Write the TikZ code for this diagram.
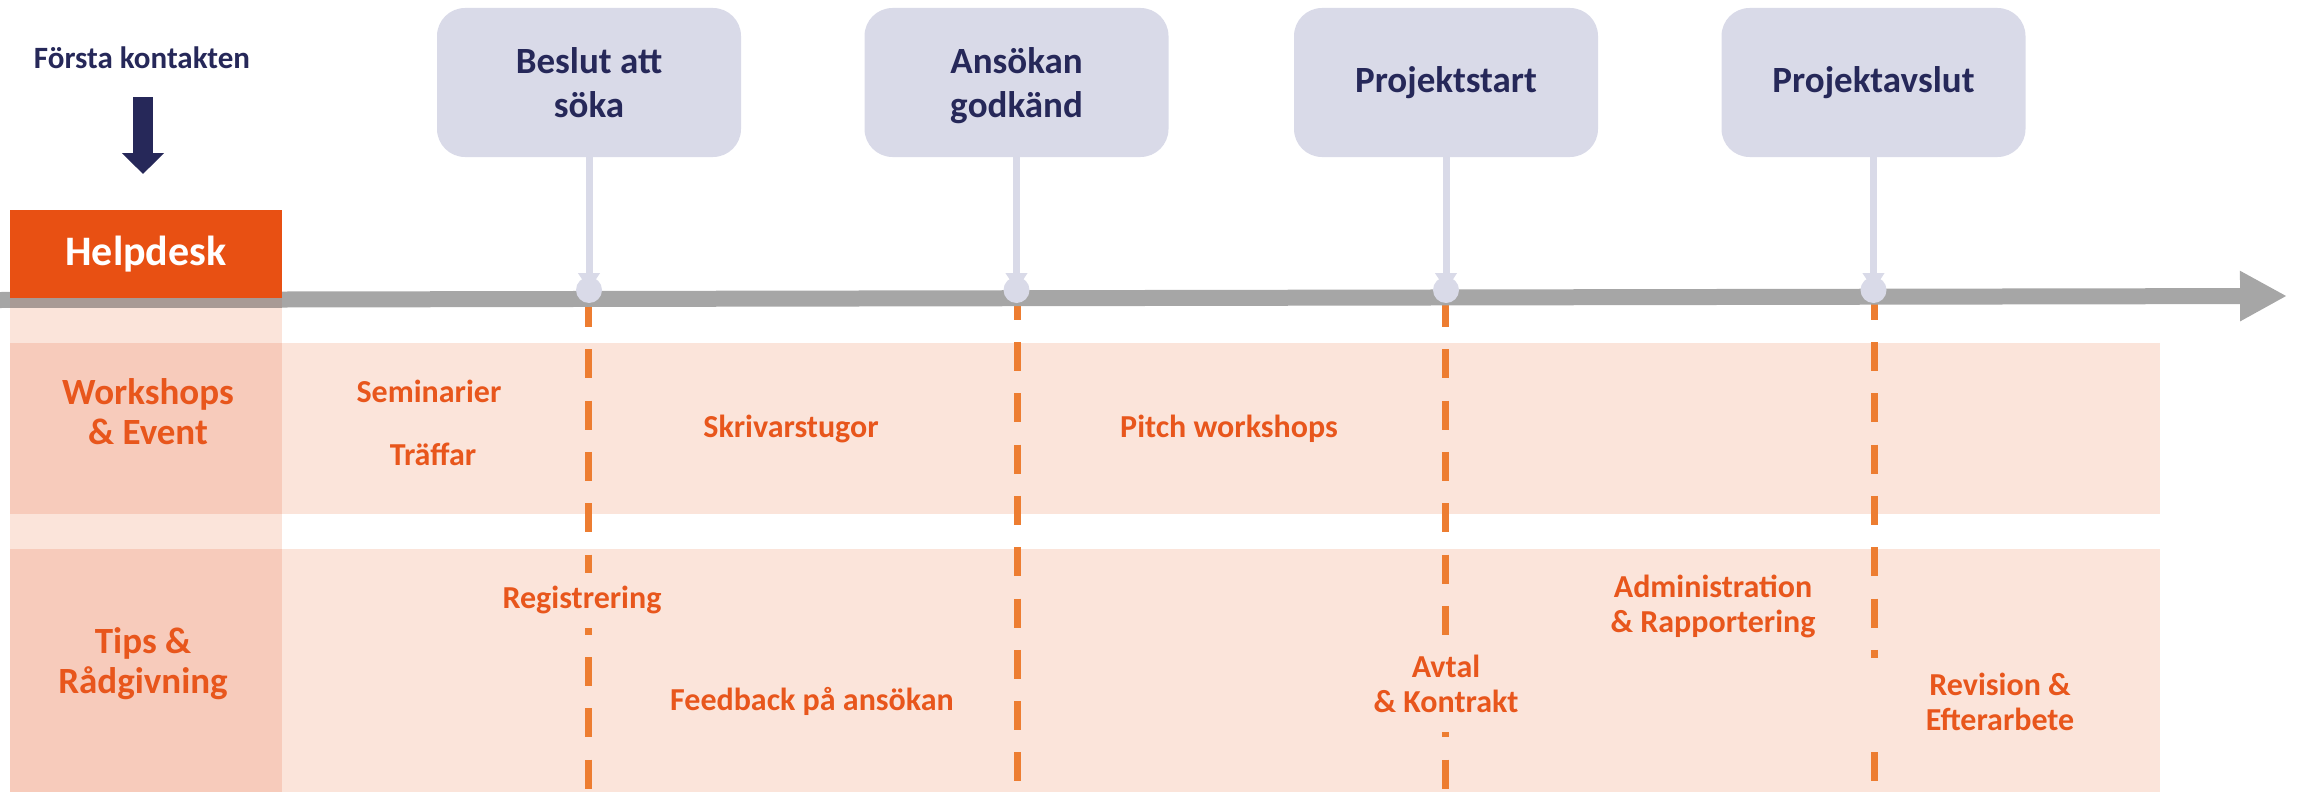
\documentclass[tikz,border=0pt]{standalone}
\usepackage{fontspec}
\setmainfont{Carlito}
\usetikzlibrary{arrows.meta}
\definecolor{navy}{HTML}{262859}
\definecolor{boxc}{HTML}{D9DAE8}
\definecolor{helpor}{HTML}{E85013}
\definecolor{txtor}{HTML}{E8561C}
\definecolor{dashor}{HTML}{ED7D31}
\definecolor{bandpink}{HTML}{FBE4DA}
\definecolor{colpink}{HTML}{F7CBBB}
\definecolor{linegray}{HTML}{A6A6A6}
\definecolor{tintgray}{HTML}{A89A95}
\begin{document}
\begin{tikzpicture}[x=1pt,y=-1pt,
  every node/.style={inner sep=0pt, outer sep=0pt},
  milestone/.style={rounded corners=28pt, fill=boxc, minimum width=304pt, minimum height=149pt, text=navy, font=\bfseries\fontsize{37}{44}\selectfont, align=center},
  stemline/.style={line width=7pt, draw=boxc, -{Triangle[width=21pt,length=17pt]}},
  dot/.style={circle, fill=boxc, minimum size=26pt},
  dashline/.style={draw=dashor, line width=7pt, dash pattern=on 29pt off 22.3pt},
  bandtxt/.style={text=txtor, font=\bfseries\fontsize{32}{35}\selectfont, align=center},
  rowtxt/.style={text=txtor, font=\bfseries\fontsize{37}{40}\selectfont, align=center},
  cover/.style={bandtxt, fill=bandpink},
]
\useasboundingbox (0,0) rectangle (2305,792);
% bands
\fill[bandpink] (282,343) rectangle (2160,514);
\fill[bandpink] (282,549) rectangle (2160,792);
\fill[bandpink] (10,308) rectangle (282,792);
\fill[colpink] (10,343) rectangle (282,514);
\fill[colpink] (10,549) rectangle (282,792);
% dashed phase lines
\coordinate (t1) at (588,298);   \coordinate (e1) at (588,792);
\coordinate (t2) at (1017,290.7); \coordinate (e2) at (1017,792);
\coordinate (t3) at (1445,298);  \coordinate (e3) at (1445,792);
\coordinate (t4) at (1874,290.7); \coordinate (e4) at (1874,792);
\draw[dashline] (t1) -- (e1);
\draw[dashline] (t2) -- (e2);
\draw[dashline] (t3) -- (e3);
\draw[dashline] (t4) -- (e4);
% band texts
\node[bandtxt, anchor=base] (sem) at (429,402) {Seminarier};
\node[bandtxt, anchor=base] (traf) at (433,465) {Träffar};
\node[bandtxt, anchor=base] (skriv) at (791,437) {Skrivarstugor};
\node[bandtxt, anchor=base] (pitch) at (1229,437) {Pitch workshops};
\node[cover, minimum height=55pt, inner xsep=6pt] (reg) at (582,600) {Registrering};
\node[bandtxt, anchor=base] (feed) at (812,710) {Feedback på ansökan};
\node[cover, minimum height=97pt, inner xsep=6pt] (avtal) at (1446,683.5) {Avtal\\\& Kontrakt};
\node[bandtxt] (admin) at (1713,606.7) {Administration\\\& Rapportering};
\node[cover, minimum height=88pt, minimum width=272pt] (rev) at (2000,702) {Revision \&\\Efterarbete};
% row labels
\node[rowtxt] (ws) at (148,412) {Workshops\\\& Event};
\node[rowtxt] (tips) at (143,664) {Tips \&\\Rådgivning};
% timeline
\coordinate (tl0) at (0,300);
\coordinate (tl1) at (2287,296);
\draw[line width=16pt, linegray, -{Triangle[width=47pt,length=47pt]}] (tl0) -- (tl1);
\fill[tintgray] (10,298) rectangle (282,308);
% helpdesk
\node[fill=helpor, minimum width=272pt, minimum height=88pt, text=white, font=\bfseries\fontsize{42}{50}\selectfont] (help) at (146,254) {Helpdesk};
\node[text=navy, font=\bfseries\fontsize{31}{37}\selectfont, anchor=base] (forsta) at (142,68) {Första kontakten};
\coordinate (a0) at (143,97);
\draw[navy, line width=20pt, -{Triangle[width=41pt,length=21pt]}, shorten >=36pt] (a0) -- (a0 |- help.north);
% milestones
\node[milestone] (m1) at (589,82.5) {Beslut att\\söka};
\node[milestone] (m2) at (1016.5,82.5) {Ansökan\\\smash{g}odkänd};
\node[milestone] (m3) at (1446,82.5) {Projektstart};
\node[milestone] (m4) at (1873.5,82.5) {Projektavslut};
\coordinate (k1) at (589,290);
\coordinate (k2) at (1016.5,290);
\coordinate (k3) at (1446,290);
\coordinate (k4) at (1873.5,290);
\draw[stemline] (m1.south) -- (k1);
\draw[stemline] (m2.south) -- (k2);
\draw[stemline] (m3.south) -- (k3);
\draw[stemline] (m4.south) -- (k4);
\node[dot] (c1) at (k1) {};
\node[dot] (c2) at (k2) {};
\node[dot] (c3) at (k3) {};
\node[dot] (c4) at (k4) {};
\end{tikzpicture}
\end{document}
